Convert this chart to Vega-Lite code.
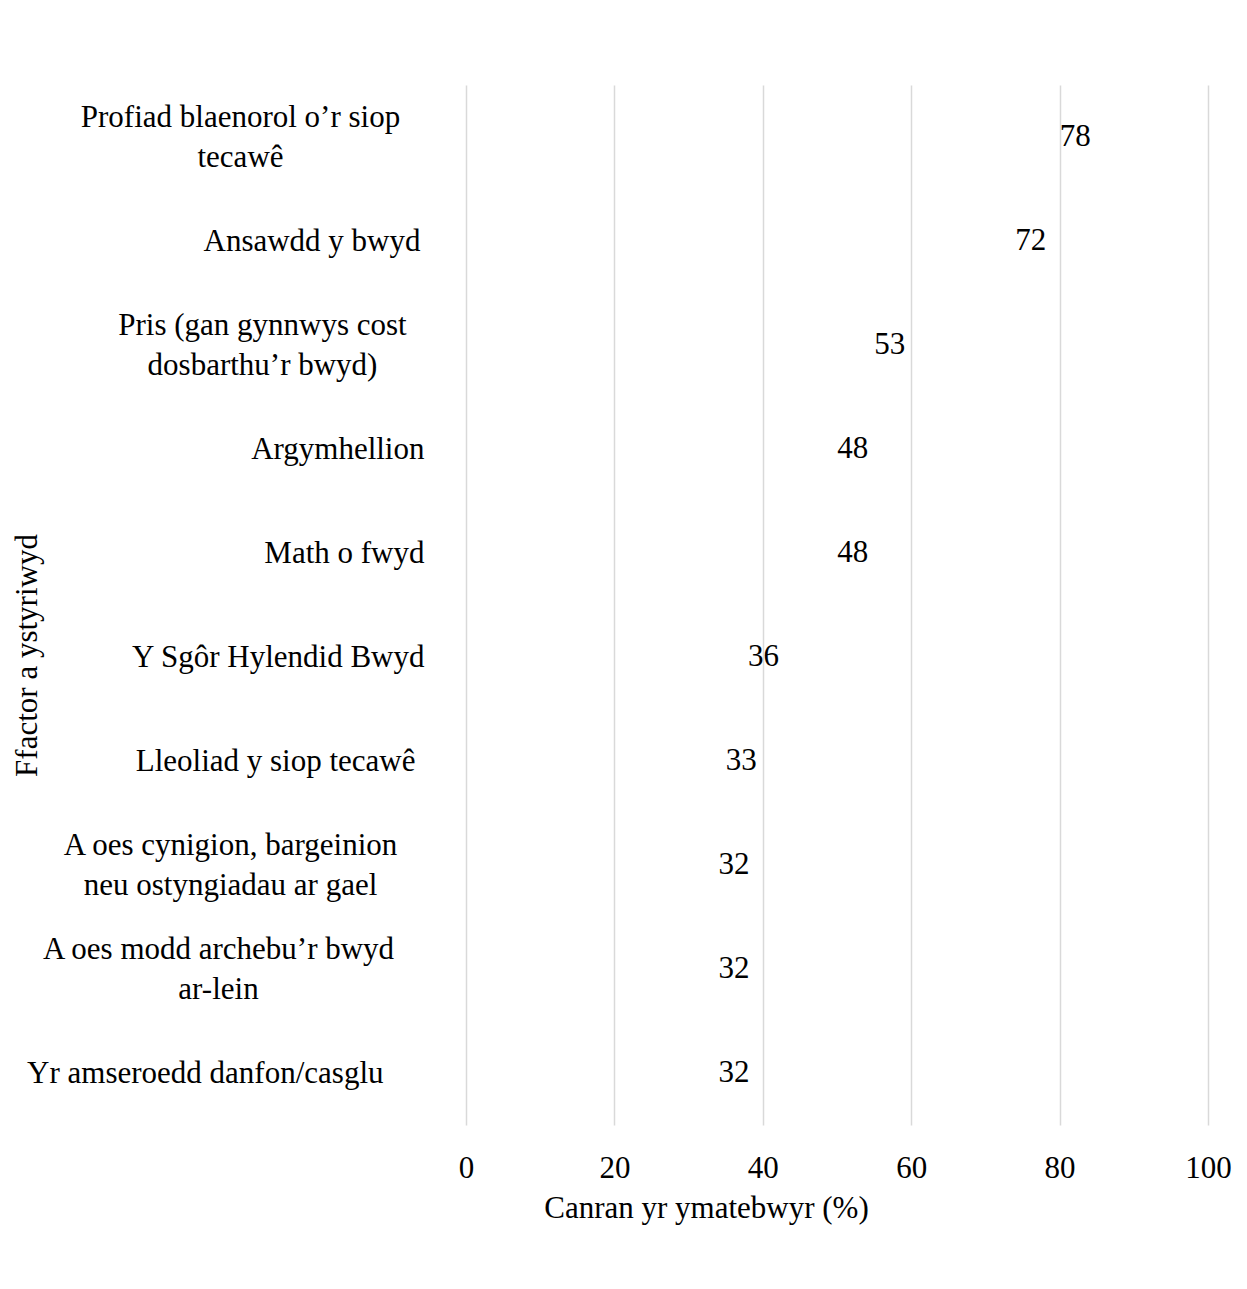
{
  "$schema": "https://vega.github.io/schema/vega-lite/v6.json",
  "width": 742,
  "height": 1040,
  "autosize": {"type": "none"},
  "padding": {"left": 466, "top": 85, "right": 39, "bottom": 164},
  "background": "white",
  "config": {
    "font": "Liberation Serif",
    "view": {"stroke": null},
    "axis": {"labelFont": "Liberation Serif", "titleFont": "Liberation Serif", "labelColor": "#000000", "titleColor": "#000000", "titleFontWeight": "normal"}
  },
  "data": {
    "values": [
      {"factor": "Profiad blaenorol o’r siop tecawê", "pct": 78},
      {"factor": "Ansawdd y bwyd", "pct": 72},
      {"factor": "Pris (gan gynnwys cost dosbarthu’r bwyd)", "pct": 53},
      {"factor": "Argymhellion", "pct": 48},
      {"factor": "Math o fwyd", "pct": 48},
      {"factor": "Y Sgôr Hylendid Bwyd", "pct": 36},
      {"factor": "Lleoliad y siop tecawê", "pct": 33},
      {"factor": "A oes cynigion, bargeinion neu ostyngiadau ar gael", "pct": 32},
      {"factor": "A oes modd archebu’r bwyd ar-lein", "pct": 32},
      {"factor": "Yr amseroedd danfon/casglu", "pct": 32}
    ]
  },
  "mark": {"type": "text", "align": "left", "baseline": "middle", "dx": 15, "fontSize": 31, "font": "Liberation Serif", "color": "#000000"},
  "encoding": {
    "y": {
      "field": "factor",
      "type": "nominal",
      "sort": null,
      "scale": {"paddingInner": 0, "paddingOuter": 0},
      "axis": {
        "title": "Ffactor a ystyriwyd",
        "titleFontSize": 31,
        "titleAngle": -90,
        "titleX": -439,
        "titleY": 570,
        "titleAlign": "center",
        "titleBaseline": "middle",
        "labelFontSize": 31,
        "labelLineHeight": 40,
        "labelBaseline": "middle",
        "labelAlign": {"condition": {"test": "indexof(['Profiad blaenorol o’r siop tecawê', 'Pris (gan gynnwys cost dosbarthu’r bwyd)', 'A oes cynigion, bargeinion neu ostyngiadau ar gael', 'A oes modd archebu’r bwyd ar-lein'], datum.value) >= 0", "value": "center"}, "value": "right"},
        "labelPadding": {"condition": [
          {"test": "datum.value == 'Profiad blaenorol o’r siop tecawê'", "value": 226},
          {"test": "datum.value == 'Pris (gan gynnwys cost dosbarthu’r bwyd)'", "value": 204},
          {"test": "datum.value == 'A oes cynigion, bargeinion neu ostyngiadau ar gael'", "value": 236},
          {"test": "datum.value == 'A oes modd archebu’r bwyd ar-lein'", "value": 248},
          {"test": "datum.value == 'Yr amseroedd danfon/casglu'", "value": 83},
          {"test": "datum.value == 'Lleoliad y siop tecawê'", "value": 51},
          {"test": "datum.value == 'Ansawdd y bwyd'", "value": 46}
        ], "value": 42},
        "labelOffset": {"condition": {"test": "indexof(['Profiad blaenorol o’r siop tecawê', 'Pris (gan gynnwys cost dosbarthu’r bwyd)', 'A oes cynigion, bargeinion neu ostyngiadau ar gael', 'A oes modd archebu’r bwyd ar-lein'], datum.value) >= 0", "value": -20}, "value": 0},
        "labelLimit": 460,
        "domain": false,
        "ticks": false,
        "grid": false,
        "labelExpr": "datum.value == 'Profiad blaenorol o’r siop tecawê' ? ['Profiad blaenorol o’r siop', 'tecawê'] : datum.value == 'Pris (gan gynnwys cost dosbarthu’r bwyd)' ? ['Pris (gan gynnwys cost', 'dosbarthu’r bwyd)'] : datum.value == 'A oes cynigion, bargeinion neu ostyngiadau ar gael' ? ['A oes cynigion, bargeinion', 'neu ostyngiadau ar gael'] : datum.value == 'A oes modd archebu’r bwyd ar-lein' ? ['A oes modd archebu’r bwyd', 'ar-lein'] : datum.value"
      }
    },
    "x": {
      "field": "pct",
      "type": "quantitative",
      "scale": {"domain": [0, 100], "nice": false},
      "axis": {
        "title": "Canran yr ymatebwyr (%)",
        "titleFontSize": 31,
        "titleX": 240,
        "titleY": 83,
        "titleAlign": "center",
        "titleBaseline": "middle",
        "values": [0, 20, 40, 60, 80, 100],
        "labelFontSize": 31,
        "labelPadding": 43,
        "labelBaseline": "middle",
        "labelFlush": false,
        "domain": false,
        "ticks": false,
        "grid": true,
        "gridColor": "#d9d9d9",
        "gridWidth": 1.5
      }
    },
    "text": {"field": "pct", "type": "quantitative"}
  }
}
